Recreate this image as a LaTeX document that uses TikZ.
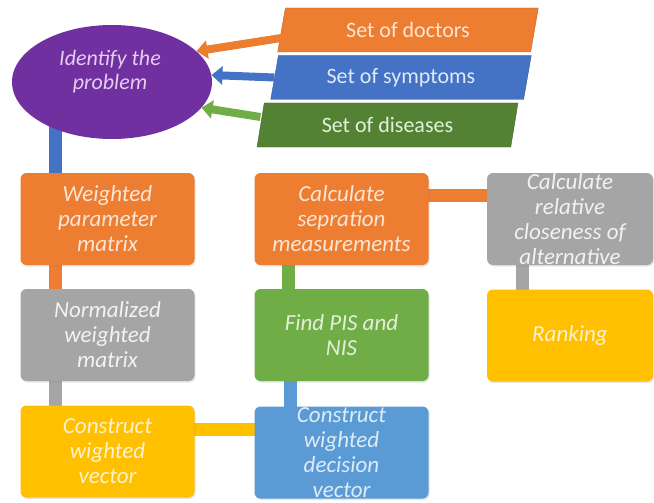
\documentclass[tikz,border=0pt]{standalone}
\usepackage{fontspec}
\setmainfont{Carlito}
\usetikzlibrary{shapes.geometric,arrows.meta,backgrounds,shadows}
\definecolor{orng}{HTML}{ED7D31}
\definecolor{gry}{HTML}{A5A5A5}
\definecolor{yllw}{HTML}{FFC000}
\definecolor{blu}{HTML}{4472C4}
\definecolor{lblu}{HTML}{5B9BD5}
\definecolor{grn}{HTML}{70AD47}
\definecolor{dgrn}{HTML}{548235}
\definecolor{prpl}{HTML}{7030A0}
\definecolor{otxt}{HTML}{FBE5D6}
\definecolor{btxt}{HTML}{DEEBF7}
\definecolor{gtxt}{HTML}{E2F0D9}
\definecolor{ytxt}{HTML}{FFF2CC}
\definecolor{wtxt}{HTML}{F2F2F2}
\definecolor{ptxt}{HTML}{E6CCF2}
\begin{document}
\begin{tikzpicture}[x=1pt,y=-1pt,
  box/.style={rectangle,rounded corners=6pt,minimum width=174pt,minimum height=92pt,
    inner sep=0pt,align=center,font=\fontsize{23}{25}\selectfont\itshape,
    drop shadow={opacity=0.2,shadow xshift=1pt,shadow yshift=-1.5pt}},
  setbox/.style={trapezium,trapezium left angle=76,trapezium right angle=104,
    trapezium stretches=true,minimum width=261pt,minimum height=44pt,inner sep=0pt,
    font=\fontsize{22}{24}\selectfont},
  bar/.style={line width=13pt},
  arr/.style={line width=8pt,-{Triangle[width=18pt,length=11pt]}}]
\useasboundingbox (0,0) rectangle (654,503);
\node[ellipse,fill=prpl,minimum width=200pt,minimum height=114pt,inner sep=0pt] (prob) at (112,82) {};
\node[align=center,text=ptxt,font=\fontsize{22}{24}\selectfont\itshape] (probtxt) at (110,72) {Identify the\\problem};
\node[setbox,fill=orng,draw=orng!80!black,text=otxt] (doc) at (408,30) {Set of doctors};
\node[setbox,fill=blu,draw=blu!80!black,text=btxt] (symp) at (401,77.5) {Set of symptoms};
\node[setbox,fill=dgrn,draw=dgrn!80!black,text=gtxt] (dis) at (387.5,125) {Set of diseases};
\draw[arr,orng] ([yshift=-8pt]doc.west) -- (prob.20);
\draw[arr,blu] (symp.west) -- (prob.4);
\draw[arr,grn] ([yshift=8pt]dis.west) -- (prob.-16);
\node[box,fill=orng,text=otxt] (wpm) at (107.5,219) {Weighted\\parameter\\matrix};
\node[box,fill=gry,text=wtxt] (nwm) at (107.5,335) {Normalized\\weighted\\matrix};
\node[box,fill=yllw,text=ytxt] (cwv) at (107.5,451.5) {Construct\\wighted\\vector};
\node[box,fill=lblu,text=btxt] (cwdv) at (341.5,452.5) {Construct\\wighted\\decision\\vector};
\node[box,fill=grn,text=gtxt] (pis) at (341.5,335) {Find PIS and\\NIS};
\node[box,fill=orng,text=otxt] (csm) at (341.5,219) {Calculate\\sepration\\measurements};
\node[box,fill=gry,text=wtxt,minimum width=166pt] (crc) at (570,219) {Calculate\\relative\\closeness of\\alternative};
\node[box,fill=yllw,text=ytxt,minimum width=166pt] (rank) at (570,335.5) {Ranking};
\begin{scope}[on background layer]
\draw[bar,blu] ([xshift=-52.5pt]wpm.center) -- ([xshift=-52.5pt]wpm.center |- prob.center);
\draw[bar,orng] ([xshift=-52pt]wpm.center) -- ([xshift=-52pt]nwm.center);
\draw[bar,gry] ([xshift=-52pt]nwm.center) -- ([xshift=-52pt]cwv.center);
\draw[bar,yllw] ([yshift=22pt]cwv.center) -- ([yshift=22pt]cwv.center -| cwdv.center);
\draw[bar,lblu] ([xshift=-51.5pt]pis.center) -- ([xshift=-51.5pt]cwdv.center);
\draw[bar,grn] ([xshift=-53pt]csm.center) -- ([xshift=-53pt]pis.center);
\draw[bar,orng] ([yshift=24pt]csm.center) -- ([yshift=24pt]crc.center);
\draw[bar,gry] ([xshift=-47.5pt]crc.center) -- ([xshift=-47.5pt]rank.center);
\end{scope}
\end{tikzpicture}
\end{document}
